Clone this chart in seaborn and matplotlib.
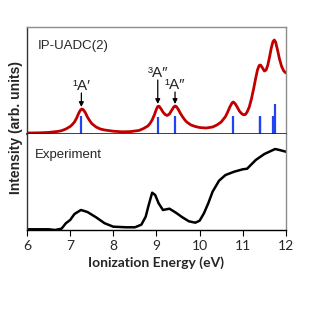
import matplotlib
matplotlib.use("Agg")
import matplotlib.pyplot as plt
import seaborn as sns
import pandas as pd

# computed spectrum (IP-UADC(2)), intensity in arbitrary units
calc_energy = [6.0, 6.3, 6.5, 6.7, 6.8, 6.9, 7.0, 7.05, 7.1, 7.15, 7.2, 7.24, 7.27, 7.3,
               7.35, 7.4, 7.45, 7.5, 7.6, 7.7, 7.8, 8.0, 8.2, 8.4, 8.6, 8.7, 8.8,
               8.85, 8.9, 8.95, 9.0, 9.03, 9.06, 9.1, 9.15, 9.2, 9.25, 9.3, 9.35,
               9.4, 9.43, 9.46, 9.5, 9.55, 9.6, 9.65, 9.7, 9.8, 9.9, 10.0, 10.15,
               10.3, 10.4, 10.5, 10.6, 10.65, 10.7, 10.75, 10.78, 10.82, 10.87,
               10.92, 10.97, 11.02, 11.06, 11.1, 11.15, 11.2, 11.25, 11.3, 11.34,
               11.38, 11.41, 11.45, 11.5, 11.54, 11.58, 11.62, 11.66, 11.7, 11.73,
               11.76, 11.8, 11.85, 11.9, 11.95, 12.0]
calc_intensity = [1, 1.2, 1.6, 2.5, 3.3, 5, 7.5, 9.5, 12, 16, 21, 24, 25, 24.5,
                  21.5, 17, 13.5, 10.5, 7, 5, 4, 2.8, 2.2, 2.4, 3.6, 5.5, 8,
                  10.5, 14, 19, 25, 27.5, 27.8, 25.5, 22, 19.5, 18.5, 20, 23.5,
                  27, 28, 27.5, 25, 21, 17.5, 14.5, 12, 9, 7.5, 6.5, 6,
                  7, 9, 12, 17.5, 22, 27, 31, 32, 30.5, 27,
                  23, 20.5, 19.2, 19.5, 22, 27, 35, 45, 56, 64,
                  68.5, 69, 66.5, 63, 64, 69, 77, 86, 92.5, 94,
                  92, 85, 75, 67.5, 63, 61]

# stick spectrum
stick_energy = [7.26, 9.03, 9.43, 10.77, 11.39, 11.41, 11.71, 11.74]
stick_height = [17.7, 17.3, 18, 17.7, 18, 17, 18, 30]

# experimental spectrum
exp_energy = [6.0, 6.5, 6.65, 6.8, 6.9, 7.0, 7.1, 7.25, 7.4, 7.6, 7.8, 8.0, 8.3, 8.5,
              8.65, 8.75, 8.82, 8.9, 8.97, 9.05, 9.15, 9.3, 9.45, 9.6, 9.75, 9.9,
              10.0, 10.1, 10.2, 10.3, 10.45, 10.6, 10.8, 11.0, 11.1, 11.3, 11.5,
              11.75, 11.85, 12.0]
exp_intensity = [0.7, 0.7, 0, 1.3, 6.7, 10, 16, 20, 18, 12.7, 6.7, 3.3, 2.7, 2.7,
                 5.3, 13.3, 25, 37.3, 35, 26.7, 20, 21.3, 17.3, 12.7, 8.7, 7.3,
                 9.3, 16.7, 26.7, 38.3, 49.3, 55, 58.3, 60.7, 61.3, 70, 76,
                 81, 80, 78.3]

# state labels: text, energy, label height, arrow start, arrow tip
state_labels = ["¹A′", "³A″", "¹A″"]
state_energy = [7.26, 9.03, 9.43]
state_text_y = [48, 61, 49]
state_arrow_from = [41, 54, 42]
state_arrow_to = [27, 30, 30]

xticks = [6, 7, 8, 9, 10, 11, 12]

calc_df = pd.DataFrame({"energy": calc_energy, "intensity": calc_intensity})
exp_df = pd.DataFrame({"energy": exp_energy, "intensity": exp_intensity})

sns.set_theme(style="white")
plt.rcParams["font.family"] = ["Liberation Sans", "DejaVu Sans"]

fig = plt.figure(figsize=(3.32, 3.11), dpi=100)
ax_top = fig.add_axes([0.0813, 0.5691, 0.78, 0.3441])
ax_bot = fig.add_axes([0.0813, 0.2605, 0.78, 0.3086])

# top panel
ax_top.vlines(stick_energy, 0, stick_height, color="#2244ee", lw=1.6)
sns.lineplot(data=calc_df, x="energy", y="intensity", ax=ax_top,
             color="#c00000", lw=2, sort=False)
for lab, e, ty, a0, a1 in zip(state_labels, state_energy, state_text_y,
                              state_arrow_from, state_arrow_to):
    ax_top.text(e, ty, lab, ha="center", va="center", fontsize=11)
    ax_top.annotate("", xy=(e, a1), xytext=(e, a0),
                    arrowprops=dict(arrowstyle="-|>", color="black", lw=0.9,
                                    mutation_scale=7, shrinkA=0, shrinkB=0))
ax_top.text(0.04, 0.82, "IP-UADC(2)", transform=ax_top.transAxes,
            fontsize=9.5, va="center", ha="left")
ax_top.set_xlim(6, 12)
ax_top.set_ylim(0, 107)
ax_top.set_xticks([])
ax_top.set_yticks([])
ax_top.set_xlabel("")
ax_top.set_ylabel("")

# bottom panel
sns.lineplot(data=exp_df, x="energy", y="intensity", ax=ax_bot,
             color="black", lw=1.8, sort=False)
ax_bot.text(0.03, 0.78, "Experiment", transform=ax_bot.transAxes,
            fontsize=9.5, va="center", ha="left")
ax_bot.set_xlim(6, 12)
ax_bot.set_ylim(0, 96)
ax_bot.set_yticks([])
ax_bot.set_xticks(xticks)
ax_bot.set_xticklabels([str(t) for t in xticks], fontfamily="Lato", fontsize=10)
ax_bot.tick_params(axis="x", direction="out", length=4, width=0.8,
                   color="black", pad=3, bottom=True)
ax_bot.set_xlabel("Ionization Energy (eV)", fontfamily="Lato",
                  fontweight="bold", fontsize=10, labelpad=3)
ax_bot.set_ylabel("")

for ax in (ax_top, ax_bot):
    for side in ("top", "right"):
        ax.spines[side].set_color("#8c8c8c")
        ax.spines[side].set_linewidth(1.0)
    ax.spines["left"].set_color("#333333")
    ax.spines["left"].set_linewidth(1.0)
ax_top.spines["bottom"].set_color("#1a1a40")
ax_top.spines["bottom"].set_linewidth(1.2)
ax_bot.spines["top"].set_visible(False)
ax_bot.spines["bottom"].set_color("black")
ax_bot.spines["bottom"].set_linewidth(1.0)

fig.text(0.048, 0.59, "Intensity (arb. units)", rotation=90, ha="center",
         va="center", fontsize=10, fontweight="bold")

fig.savefig("out.png", dpi=100)
